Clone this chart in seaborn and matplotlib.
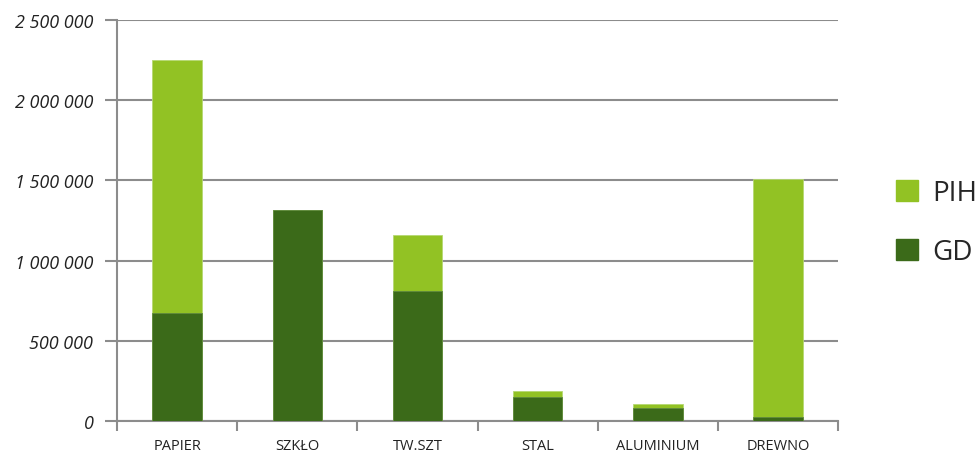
import matplotlib
matplotlib.use('Agg')
import matplotlib.pyplot as plt
from matplotlib.patches import Patch
from matplotlib.ticker import FuncFormatter, FixedLocator
import seaborn as sns
import pandas as pd

categories = ["PAPIER", "SZKŁO", "TW.SZT", "STAL", "ALUMINIUM", "DREWNO"]
gd_values = [675000, 1315000, 810000, 152000, 81000, 27000]
pih_values = [1575000, 0, 350000, 33000, 25000, 1483000]
y_ticks = [0, 500000, 1000000, 1500000, 2000000, 2500000]

LIGHT = "#92c224"
DARK = "#3b6a19"
GREY = "#8c8c8c"

sns.set_theme(style="white")
plt.rcParams['font.family'] = ['Open Sans', 'DejaVu Sans']

df = pd.DataFrame({"kat": categories, "GD": gd_values, "PIH": pih_values})
df["total"] = df["GD"] + df["PIH"]

fig = plt.figure(figsize=(9.78, 4.52), dpi=100)
ax = fig.add_axes([0.1196, 0.0664, 0.7375, 0.8871])

# stacked: total first (light), GD on top (dark)
sns.barplot(data=df, x="kat", y="total", color=LIGHT, width=0.41,
            saturation=1, ax=ax, zorder=3, edgecolor="#b5d873", linewidth=0.6)
sns.barplot(data=df, x="kat", y="GD", color=DARK, width=0.41,
            saturation=1, ax=ax, zorder=4, edgecolor="#5f8a3f", linewidth=0.6)

ax.set_ylim(0, 2500000)
ax.set_xlim(-0.5, len(categories) - 0.5)
ax.set_yticks(y_ticks)
ax.yaxis.set_major_formatter(FuncFormatter(lambda v, p: f"{int(v):,}".replace(",", " ")))
for t in ax.get_yticklabels():
    t.set_fontstyle("italic")
    t.set_fontsize(13)
    t.set_color("#222222")

ax.set_xticks(range(len(categories)))
ax.set_xticklabels(categories, fontsize=10.5, color="#222222")
ax.xaxis.set_minor_locator(FixedLocator([i - 0.5 for i in range(len(categories) + 1)]))
ax.tick_params(axis="x", which="major", length=0, pad=12)
ax.tick_params(axis="x", which="minor", bottom=True, length=7, width=1.5,
               color=GREY, direction="out")
ax.tick_params(axis="y", which="major", left=True, length=9, width=1.5,
               color=GREY, direction="out", pad=8)

ax.grid(axis="y", color=GREY, linewidth=1.5, zorder=0)
ax.set_axisbelow(True)
for s in ["top", "right"]:
    ax.spines[s].set_visible(False)
for s in ["left", "bottom"]:
    ax.spines[s].set_color(GREY)
    ax.spines[s].set_linewidth(1.5)
ax.set_xlabel("")
ax.set_ylabel("")

handles = [Patch(color=LIGHT, label="PIH"), Patch(color=DARK, label="GD")]
fig.legend(handles=handles, loc="center left", bbox_to_anchor=(0.905, 0.505),
           frameon=False, fontsize=20, handlelength=0.8, handleheight=0.8,
           handletextpad=0.5, labelspacing=1.1, borderaxespad=0)

fig.savefig("out.png", dpi=100)
